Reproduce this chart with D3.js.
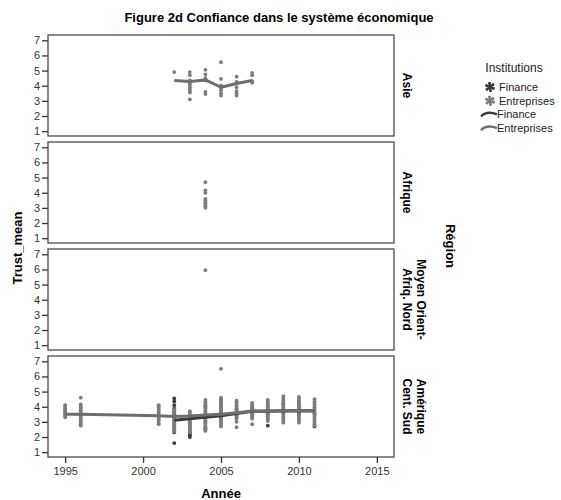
<!DOCTYPE html>
<html>
<head>
<meta charset="utf-8">
<script src="https://cdn.jsdelivr.net/npm/d3@7"></script>
<style>
  body { margin: 0; background: #fff; }
  svg text { font-family: "Liberation Sans", Arial, sans-serif; }
</style>
</head>
<body>
<div id="chart"></div>
<script>
// Regions (facet rows), top to bottom
const regions = ["Asie", "Afrique", "Moyen Orient-|Afriq. Nord", "Amérique|Cent. Sud"];
const xTicks = [1995, 2000, 2005, 2010, 2015];
const yTicks = [1, 2, 3, 4, 5, 6, 7];

// Points: [year, [trust values]] per region / institution
const asieEntreprises = [
    [2002, [4.9]],
    [2003, [3.1, 3.55, 3.65, 3.75, 3.9, 4.05, 4.15, 4.35, 4.7, 4.9]],
    [2004, [3.45, 3.6, 4.35, 4.5, 4.75, 5.05]],
    [2005, [3.35, 3.5, 3.7, 3.85, 4.0, 4.45, 5.55]],
    [2006, [3.35, 3.5, 3.65, 3.9, 4.25, 4.6]],
    [2007, [4.2, 4.3, 4.7, 4.85]]
];
const afriqueEntreprises = [
    [2004, [3.0, 3.1, 3.2, 3.3, 3.4, 3.5, 3.6, 4.0, 4.15, 4.7]]
];
const moyenOrientEntreprises = [
    [2004, [5.95]]
];
const ameriqueEntreprises = [
    [1995, [3.3, 3.4, 3.5, 3.55, 3.6, 3.7, 3.8, 3.9, 4.0, 4.1]],
    [1996, [2.75, 2.85, 2.95, 3.05, 3.15, 3.25, 3.35, 3.45, 3.55, 3.65, 3.75, 3.85, 3.95, 4.05, 4.15, 4.6]],
    [2001, [2.85, 2.95, 3.05, 3.15, 3.25, 3.35, 3.45, 3.55, 3.65, 3.75, 3.85, 3.95, 4.05, 4.1]],
    [2002, [2.35, 2.45, 2.55, 2.65, 2.75, 2.85, 2.95, 3.05, 3.15, 3.25, 3.35, 3.45, 3.55, 3.65, 3.75, 3.85]],
    [2003, [2.3, 2.4, 2.5, 2.6, 2.7, 2.8, 2.9, 3.0, 3.1, 3.2, 3.3, 3.4, 3.5, 3.6, 3.7]],
    [2004, [2.4, 2.5, 2.6, 2.7, 2.8, 2.9, 3.0, 3.1, 3.2, 3.3, 3.4, 3.5, 3.6, 3.7, 3.8, 3.9, 4.0, 4.1, 4.2, 4.3, 4.45]],
    [2005, [2.7, 2.8, 2.9, 3.0, 3.1, 3.2, 3.3, 3.4, 3.5, 3.6, 3.7, 3.8, 3.9, 4.0, 4.1, 4.2, 4.3, 4.4, 4.5, 4.6, 6.5]],
    [2006, [2.65, 3.0, 3.2, 3.3, 3.4, 3.5, 3.6, 3.7, 3.8, 3.9, 4.0, 4.1, 4.2, 4.3, 4.4]],
    [2007, [2.85, 3.2, 3.3, 3.4, 3.5, 3.6, 3.7, 3.8, 3.9, 4.0, 4.1, 4.2, 4.25]],
    [2008, [3.05, 3.15, 3.25, 3.35, 3.45, 3.55, 3.65, 3.75, 3.85, 3.95, 4.05, 4.15, 4.25, 4.35, 4.45]],
    [2009, [2.95, 3.05, 3.15, 3.25, 3.35, 3.45, 3.55, 3.65, 3.75, 3.85, 3.95, 4.05, 4.15, 4.25, 4.35, 4.45, 4.55, 4.7]],
    [2010, [2.95, 3.05, 3.15, 3.25, 3.35, 3.45, 3.55, 3.65, 3.75, 3.85, 3.95, 4.05, 4.15, 4.25, 4.35, 4.45, 4.55, 4.65]],
    [2011, [2.75, 2.85, 2.95, 3.05, 3.15, 3.25, 3.35, 3.45, 3.55, 3.65, 3.75, 3.85, 3.95, 4.05, 4.15, 4.25, 4.35, 4.5]]
];
const ameriqueFinance = [
    [2002, [1.6, 2.3, 2.5, 2.7, 2.9, 3.1, 3.3, 3.5, 3.7, 3.9, 4.1, 4.35, 4.55]],
    [2003, [2.0, 2.1, 2.2, 2.35, 2.6, 2.9, 3.2]],
    [2004, [2.5, 2.6, 3.0, 3.5, 4.0]],
    [2005, [3.2, 3.6, 4.0, 4.45]],
    [2006, [3.4, 3.8]],
    [2007, [3.5, 3.9]],
    [2008, [2.75, 3.5, 4.0]],
    [2009, [3.6, 4.2]],
    [2010, [3.5, 4.0]],
    [2011, [2.7, 3.5]]
];

// Mean lines: [year, mean]
const asieLineEntreprises = [[2002, 4.35], [2003, 4.28], [2004, 4.38], [2005, 3.9], [2006, 4.15], [2007, 4.35]];
const ameriqueLineEntreprises = [[1995, 3.5], [1996, 3.5], [2001, 3.4], [2002, 3.35], [2003, 3.38], [2004, 3.45],
    [2005, 3.5], [2006, 3.6], [2007, 3.72], [2008, 3.72], [2009, 3.75], [2010, 3.75], [2011, 3.75]];
const ameriqueLineFinance = [[2002, 3.1], [2003, 3.2], [2004, 3.3], [2005, 3.4], [2006, 3.55], [2007, 3.7],
    [2008, 3.7], [2009, 3.72], [2010, 3.72], [2011, 3.72]];

const panels = [
    { points: [["Entreprises", asieEntreprises]], lines: [["Entreprises", asieLineEntreprises]] },
    { points: [["Entreprises", afriqueEntreprises]], lines: [] },
    { points: [["Entreprises", moyenOrientEntreprises]], lines: [] },
    { points: [["Finance", ameriqueFinance], ["Entreprises", ameriqueEntreprises]],
      lines: [["Finance", ameriqueLineFinance], ["Entreprises", ameriqueLineEntreprises]] }
];

const colors = { Finance: "#3a3a3a", Entreprises: "#7c7c7c" };
const lineColors = { Finance: "#3a3a3a", Entreprises: "#6e6e6e" };

// Layout
const W = 561, H = 500;
const left = 48, right = 394;
const top0 = 35, step = 107, panelH = 101;

const svg = d3.select("#chart").append("svg")
    .attr("width", W)
    .attr("height", H);

const x = d3.scaleLinear().domain([1993.9, 2016.1]).range([left, right]);
const y = d3.scaleLinear().domain([0.68, 7.35]).range([panelH, 0]);

// Title
svg.append("text")
    .attr("x", 279).attr("y", 22)
    .attr("text-anchor", "middle")
    .attr("font-size", "13px").attr("font-weight", "bold")
    .text("Figure 2d Confiance dans le système économique");

const line = d3.line().x(d => x(d[0])).y(d => y(d[1]));

panels.forEach((p, i) => {
    const g = svg.append("g").attr("transform", `translate(0,${top0 + i * step})`);

    // y axis
    const yAxis = g.append("g")
        .attr("transform", `translate(${left},0)`)
        .call(d3.axisLeft(y).tickValues(yTicks).tickFormat(d3.format("d")).tickSize(6).tickPadding(2));
    yAxis.select(".domain").remove();
    yAxis.selectAll("line").attr("stroke", "#333").attr("stroke-width", 1.3);
    yAxis.selectAll("text").attr("font-size", "11px").attr("fill", "#333")
        .attr("font-family", "Liberation Sans, Arial, sans-serif");

    // points
    p.points.forEach(([inst, data]) => {
        const flat = data.flatMap(([yr, vals]) => vals.map(v => [yr, v]));
        g.selectAll(null)
            .data(flat)
            .enter()
            .append("circle")
            .attr("cx", d => x(d[0]))
            .attr("cy", d => y(d[1]))
            .attr("r", 1.9)
            .attr("fill", colors[inst]);
    });

    // mean lines
    p.lines.forEach(([inst, data]) => {
        g.append("path")
            .datum(data)
            .attr("d", line)
            .attr("fill", "none")
            .attr("stroke", lineColors[inst])
            .attr("stroke-width", 3)
            .attr("stroke-linejoin", "round");
    });

    // frame
    g.append("rect")
        .attr("x", left).attr("y", 0)
        .attr("width", right - left).attr("height", panelH)
        .attr("fill", "none")
        .attr("stroke", "#4a4a4a")
        .attr("stroke-width", 1.3);

    // strip label
    const lines = regions[i].split("|");
    const lab = g.append("text")
        .attr("transform", `translate(407,${panelH / 2}) rotate(90)`)
        .attr("text-anchor", "middle")
        .attr("font-size", "12px").attr("font-weight", "bold");
    lines.forEach((t, k) => {
        lab.append("tspan")
            .attr("x", 0)
            .attr("y", (k - (lines.length - 1)) * 14 + 4)
            .text(t);
    });
});

// x axis (bottom panel)
const xAxis = svg.append("g")
    .attr("transform", `translate(0,${top0 + 3 * step + panelH})`)
    .call(d3.axisBottom(x).tickValues(xTicks).tickFormat(d3.format("d")).tickSize(6).tickPadding(4));
xAxis.select(".domain").remove();
xAxis.selectAll("line").attr("stroke", "#333").attr("stroke-width", 1.3);
xAxis.selectAll("text").attr("font-size", "11px").attr("fill", "#333")
    .attr("font-family", "Liberation Sans, Arial, sans-serif");

// axis titles
svg.append("text")
    .attr("x", 221).attr("y", 498)
    .attr("text-anchor", "middle")
    .attr("font-size", "13px").attr("font-weight", "bold")
    .text("Année");

svg.append("text")
    .attr("transform", "translate(22,248) rotate(-90)")
    .attr("text-anchor", "middle")
    .attr("font-size", "13px").attr("font-weight", "bold")
    .text("Trust_mean");

svg.append("text")
    .attr("transform", "translate(446,246) rotate(90)")
    .attr("text-anchor", "middle")
    .attr("font-size", "13px").attr("font-weight", "bold")
    .text("Région");

// Legend
const legend = svg.append("g");
legend.append("text")
    .attr("x", 514).attr("y", 72)
    .attr("text-anchor", "middle")
    .attr("font-size", "12px").attr("fill", "#222")
    .text("Institutions");

const legendItems = [
    { label: "Finance", kind: "point", inst: "Finance" },
    { label: "Entreprises", kind: "point", inst: "Entreprises" },
    { label: "Finance", kind: "line", inst: "Finance" },
    { label: "Entreprises", kind: "line", inst: "Entreprises" }
];

legendItems.forEach((d, i) => {
    const ly = 87 + i * 13.7;
    if (d.kind === "point") {
        [0, 45].forEach(a => {
            legend.append("path")
                .attr("transform", `translate(490,${ly}) rotate(${a})`)
                .attr("d", d3.symbol(d3.symbolAsterisk, 70)())
                .attr("stroke", colors[d.inst])
                .attr("stroke-width", 1.8)
                .attr("fill", "none");
        });
    } else {
        legend.append("path")
            .attr("d", `M481,${ly + 2} C486,${ly - 3} 492,${ly - 2} 497,${ly}`)
            .attr("stroke", lineColors[d.inst])
            .attr("stroke-width", 2.5)
            .attr("fill", "none");
    }
    legend.append("text")
        .attr("x", d.kind === "point" ? 499 : 497)
        .attr("y", ly + 4)
        .attr("font-size", "11px").attr("fill", "#222")
        .text(d.label);
});
</script>
</body>
</html>
